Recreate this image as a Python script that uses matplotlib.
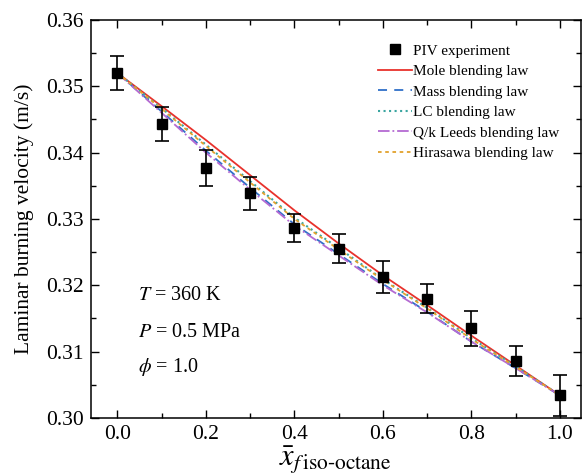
import numpy as np
import matplotlib.pyplot as plt
from matplotlib.lines import Line2D
from matplotlib.ticker import MultipleLocator

plt.rcParams['font.family'] = ['Liberation Serif', 'DejaVu Serif']
plt.rcParams['mathtext.fontset'] = 'stix'

# iso-octane fraction in the fuel blend
x_frac = [0.0, 0.1, 0.2, 0.3, 0.4, 0.5, 0.6, 0.7, 0.8, 0.9, 1.0]

# PIV measurements with uncertainty
piv_su = [0.3520, 0.3443, 0.3377, 0.3339, 0.3286, 0.3255, 0.3212, 0.3180, 0.3135, 0.3086, 0.3034]
piv_err = [0.0025, 0.0026, 0.0027, 0.0025, 0.0021, 0.0022, 0.0024, 0.0022, 0.0026, 0.0023, 0.0031]

# blending law predictions
mole_law = [0.3520, 0.3470, 0.3419, 0.3366, 0.3313, 0.3263, 0.3215, 0.3170, 0.3124, 0.3079, 0.3034]
mass_law = [0.3520, 0.3462, 0.3403, 0.3347, 0.3292, 0.3247, 0.3202, 0.3160, 0.3115, 0.3075, 0.3034]
lc_law = [0.3520, 0.3467, 0.3412, 0.3357, 0.3302, 0.3256, 0.3209, 0.3166, 0.3120, 0.3078, 0.3034]
qk_law = [0.3520, 0.3460, 0.3400, 0.3344, 0.3290, 0.3245, 0.3200, 0.3159, 0.3115, 0.3075, 0.3034]
hirasawa_law = [0.3520, 0.3466, 0.3410, 0.3355, 0.3300, 0.3254, 0.3208, 0.3165, 0.3119, 0.3077, 0.3034]

fig = plt.figure(figsize=(5.82, 4.75), dpi=100)
ax = fig.add_axes([0.156, 0.12, 0.842, 0.838])

ax.errorbar(x_frac, piv_su, yerr=piv_err, fmt='s', color='black', ms=7,
            capsize=5, elinewidth=1.2, capthick=1.2, zorder=5)
l_mole, = ax.plot(x_frac, mole_law, '-', color='#e8322c', lw=1.3)
l_mass, = ax.plot(x_frac, mass_law, '--', color='#2f6fc8', lw=1.3, dashes=(5, 4))
l_lc, = ax.plot(x_frac, lc_law, ':', color='#3aa5a0', lw=1.5)
l_qk, = ax.plot(x_frac, qk_law, '-.', color='#b46ad2', lw=1.3)
l_hir, = ax.plot(x_frac, hirasawa_law, '--', color='#e2a12c', lw=1.3, dashes=(2, 2))

ax.set_xlim(-0.06, 1.047)
ax.set_ylim(0.30, 0.36)
ax.xaxis.set_major_locator(MultipleLocator(0.2))
ax.xaxis.set_minor_locator(MultipleLocator(0.1))
ax.yaxis.set_major_locator(MultipleLocator(0.01))
ax.yaxis.set_minor_locator(MultipleLocator(0.005))
ax.xaxis.set_major_formatter(lambda v, p: f'{v:.1f}')
ax.yaxis.set_major_formatter(lambda v, p: f'{v:.2f}')
ax.tick_params(which='both', direction='in', top=True, right=True, labelsize=15.5, width=1)
ax.tick_params(which='major', length=6, pad=5)
ax.tick_params(which='minor', length=3.5)
for s in ax.spines.values():
    s.set_linewidth(1.1)

ax.set_ylabel('Laminar burning velocity (m/s)', fontsize=15.5, labelpad=9)
ax.set_xlabel(r'$\bar{x}_{f\,\mathrm{iso\text{-}octane}}$', fontsize=22, labelpad=0)

ax.text(0.096, 0.307, r'$T$ = 360 K', transform=ax.transAxes, fontsize=14.5, va='center')
ax.text(0.096, 0.216, r'$P$ = 0.5 MPa', transform=ax.transAxes, fontsize=14.5, va='center')
ax.text(0.096, 0.128, r'$\phi$ = 1.0', transform=ax.transAxes, fontsize=14.5, va='center')

piv_handle = Line2D([], [], marker='s', ls='none', color='black', ms=7)
handles = [piv_handle, l_mole, l_mass, l_lc, l_qk, l_hir]
labels = ['PIV experiment', 'Mole blending law', 'Mass blending law', 'LC blending law',
          'Q/k Leeds blending law', 'Hirasawa blending law']
ax.legend(handles, labels, loc='upper left', bbox_to_anchor=(0.586, 0.94), frameon=False,
          fontsize=11, handlelength=2.2, handletextpad=0.1, labelspacing=0.45,
          borderaxespad=0, borderpad=0)

fig.savefig('out.png', dpi=100)
